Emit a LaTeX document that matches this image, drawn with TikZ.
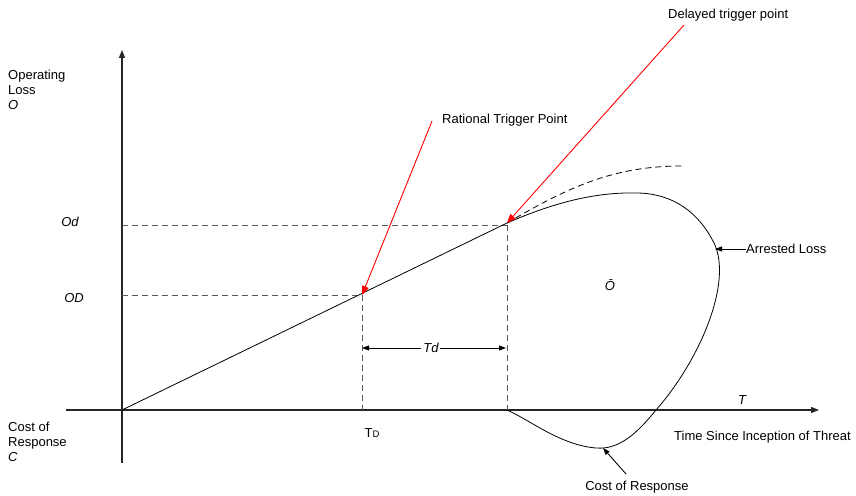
\documentclass[tikz,border=0pt]{standalone}
\usepackage{fontspec}
\setmainfont{Liberation Sans}
\usetikzlibrary{arrows.meta}
\begin{document}
\begin{tikzpicture}[x=1pt,y=-1pt,
  lbl/.style={font=\fontsize{13}{14.7}\selectfont, inner sep=0pt},
  ilbl/.style={lbl, font=\fontsize{13}{14.7}\selectfont\itshape},
  axis/.style={line width=1.1pt, draw=black!85},
  guide/.style={dashed, dash pattern=on 6pt off 4pt, line width=0.8pt, draw=black!65},
  redarrow/.style={draw=red, line width=0.9pt, -{Triangle[length=9pt,width=7pt]}, red},
  blackarrow/.style={line width=0.9pt, -{Triangle[length=7pt,width=5pt]}},
  curve/.style={line width=0.8pt}]
\useasboundingbox (0,0) rectangle (856,495);
% axes
\coordinate (O) at (122,410);
\coordinate (ybot) at (122,463);
\coordinate (ytop) at (122,50);
\coordinate (xleft) at (66,410);
\coordinate (xright) at (819,410);
\draw[axis, -{Triangle[length=8pt,width=6pt]}] (ybot) -- (ytop);
\draw[axis, -{Triangle[length=8pt,width=6pt]}] (xleft) -- (xright);
% key points
\coordinate (PD) at (362,295);
\coordinate (Pd) at (507,223);
\coordinate (yD) at (122,295);
\coordinate (yd) at (122,225);
\coordinate (xD) at (362,410);
\coordinate (xd) at (507,410);
% guides
\draw[guide] (yd) -- (Pd |- yd);
\draw[guide] (yD) -- (PD);
\draw[guide] (PD) -- (xD);
\draw[guide] (Pd |- yd) -- (xd);
% main line
\draw[curve] (O) -- (Pd);
% Td arrows
\node[ilbl] (td) at (431,348) {Td};
\coordinate (tdl) at (362,348);
\coordinate (tdr) at (506,348);
\draw[blackarrow] ([xshift=-2pt]td.west) -- (tdl);
\draw[blackarrow] ([xshift=1pt]td.east) -- (tdr);
% dashed continuation
\coordinate (dend) at (682,166);
\draw[curve, dashed, dash pattern=on 6pt off 4pt] (Pd) .. controls (570,186) and (615,166) .. (dend);
% arrested loss loop
\draw[curve] (Pd) .. controls (560,200) and (600,192) .. (638,193)
  .. controls (676,194) and (700,215) .. (714,243)
  .. controls (733,282) and (700,360) .. (656,410)
  .. controls (638,432) and (620,450) .. (596,448)
  .. controls (560,445) and (530,420) .. (xd);
% labels
\node[lbl, anchor=north west, align=left] (ol) at (8,70) {Operating\\Loss\\\textit{O}};
\node[lbl, anchor=north west, align=left] (cr) at (8,422) {Cost of\\Response\\\textit{C}};
\node[ilbl] (Odl) at (70,222) {Od};
\node[ilbl] (ODl) at (74,298) {OD};
\node[lbl] (TDl) at (372,433) {T{\fontsize{9.5}{11}\selectfont D}};
\node[ilbl] (Tl) at (742,400) {T};
\node[lbl, anchor=west] (time) at (674,437) {Time Since Inception of Threat};
\node[ilbl] (obar) at (610,285) {\=O};
% rational trigger
\node[lbl, anchor=west] (rat) at (442,120) {Rational Trigger Point};
\coordinate (ratstart) at (432,121);
\draw[redarrow] (ratstart) -- (PD);
% delayed trigger
\node[lbl, anchor=west] (del) at (668,15) {Delayed trigger point};
\coordinate (delstart) at (684,25);
\draw[redarrow] (delstart) -- (Pd);
% arrested loss label
\node[lbl, anchor=west] (arr) at (746,249) {Arrested Loss};
\coordinate (arrtip) at (715,249);
\draw[blackarrow] (arr.west) -- (arrtip);
% cost of response label
\node[lbl] (cost) at (637,487) {Cost of Response};
\coordinate (costtip) at (603,448);
\draw[blackarrow] (626,474) -- (costtip);
\end{tikzpicture}
\end{document}
